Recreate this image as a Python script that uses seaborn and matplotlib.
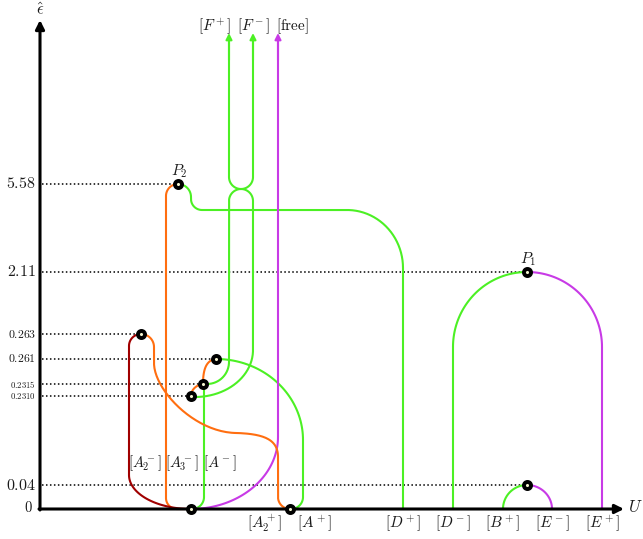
import numpy as np
import matplotlib
matplotlib.use("Agg")
import matplotlib.pyplot as plt
import seaborn as sns

# ---- data -----------------------------------------------------------------
# energy levels shown on the vertical axis
level_labels = ["0", "0.04", "0.2310", "0.2315", "0.261", "0.263", "2.11", "5.58"]
# branch names along the U axis
bottom_branches = [r"[A_2^+]", r"[A^+]", r"[D^+]", r"[D^-]", r"[B^+]", r"[E^-]", r"[E^+]"]
mid_branches = [r"[A_2^-]", r"[A_3^-]", r"[A^-]"]
top_branches = [r"[F^+]", r"[F^-]", r"[\mathrm{free}]"]
# critical points: the level each one sits on
crit_level = ["5.58", "2.11", "0.263", "0.261", "0.2315", "0.2310", "0.04", "0", "0"]
crit_names = ["P_2", "P_1", "", "", "", "", "", "", ""]

# ---- layout (canvas pixels) -------------------------------------------------
level_rows = dict(zip(level_labels, [509, 485, 396, 384, 359, 334, 272, 184]))
level_sizes = dict(zip(level_labels, [10.5, 11.5, 6.3, 6.3, 8.5, 8.5, 11.5, 11.5]))
bottom_x = [265, 315, 403, 453, 503, 552, 602]
mid_x = [145, 182, 220]
top_x = [215, 254, 292]
crit_x = [178, 527, 141, 216, 203, 191, 527, 191, 290]

GREEN = "#4cf024"
ORANGE = "#ff6e10"
MAGENTA = "#c83ae6"
DARKRED = "#a00000"
TXT = "#1a1a1a"


def arc(cx, cy, rx, ry, a0, a1, n=48):
    t = np.radians(np.linspace(a0, a1, n))
    return np.column_stack([cx + rx * np.cos(t), cy - ry * np.sin(t)])


def seg(*pts):
    return np.array(pts, float)


def bez(p0, p1, p2, p3, n=48):
    t = np.linspace(0, 1, n)[:, None]
    p0, p1, p2, p3 = (np.array(p, float) for p in (p0, p1, p2, p3))
    return ((1 - t) ** 3) * p0 + 3 * ((1 - t) ** 2) * t * p1 + 3 * (1 - t) * t * t * p2 + t ** 3 * p3


def path(*parts):
    return np.vstack(parts)


sns.set_theme(style="white")
plt.rcParams["mathtext.fontset"] = "cm"
plt.rcParams["font.family"] = ["DejaVu Serif"]

fig = plt.figure(figsize=(6.43, 5.39), dpi=100)
ax = fig.add_axes([0, 0, 1, 1])
ax.set_axis_off()

y_of = level_rows

# ---- branch curves ----------------------------------------------------------
paths = []
# upper loop of F+ / F-
paths.append((GREEN, path(seg((229, 40), (229, 177)), arc(241, 177, 12, 12, 180, 360), seg((253, 177), (253, 40)))))
# lower arch joining the points at 0.2315 and 0.2310
paths.append((GREEN, path(seg((203, 384)), arc(207, 362, 22, 22, 270, 360), seg((229, 362), (229, 201)),
                          arc(241, 201, 12, 12, 180, 0), seg((253, 201), (253, 350)),
                          arc(195, 350, 58, 47, 0, -90), seg((191, 397)))))
# P2 to D+
paths.append((GREEN, path(arc(178, 197, 13, 13, 90, 0), seg((191, 199)), arc(202, 199, 11, 11, 180, 270),
                          seg((347, 210)), arc(347, 268, 56, 58, 90, 0), seg((403, 509)))))
# 0.261 point to A+
paths.append((GREEN, path(arc(216, 440, 87, 81, 90, 0), seg((303, 497)), arc(291, 497, 12, 12, 0, -90))))
# A- branch
paths.append((GREEN, path(seg((204, 384), (204, 497)), arc(192, 497, 12, 12, 0, -90))))
# D- to P1
paths.append((GREEN, path(seg((453, 509)), arc(527, 347, 74, 75, 180, 90))))
# B+ to the 0.04 point
paths.append((GREEN, arc(527, 509, 24, 24, 180, 90)))

# P1 to E+
paths.append((MAGENTA, path(arc(527, 347, 75, 75, 90, 0), seg((602, 509)))))
# 0.04 point to E-
paths.append((MAGENTA, arc(527, 509, 25, 24, 90, 0)))
# free branch
paths.append((MAGENTA, path(seg((278, 40), (278, 437)), arc(191, 437, 87, 72, 0, -90))))

# A3- branch from P2
paths.append((ORANGE, path(arc(178, 196, 12, 12, 90, 180), seg((166, 498)), arc(177, 498, 11, 11, 180, 270),
                           seg((191, 509)))))
# 0.263 point to A2+
paths.append((ORANGE, path(arc(141, 347, 13, 13, 90, 0), seg((154, 363)),
                           bez((154, 363), (154, 390), (195, 433), (237, 433)),
                           bez((237, 433), (265, 434), (278, 440), (278, 457)),
                           seg((278, 497)), arc(290, 497, 12, 12, 180, 270))))
# small orange links between the low points
paths.append((ORANGE, path(bez((216, 359), (207, 360), (203, 368), (203, 384)))))
paths.append((ORANGE, path(bez((203, 384), (196, 385), (191, 390), (191, 396)))))
# A2- branch
paths.append((DARKRED, path(arc(141, 346, 12, 12, 90, 180), seg((129, 475)), arc(191, 475, 62, 34, 180, 270))))

for color, p in paths:
    sns.lineplot(x=p[:, 0], y=p[:, 1], sort=False, estimator=None, color=color, lw=1.5, ax=ax, zorder=3)

# arrows for the unbounded branches
for x, c in zip([229, 253, 278], [GREEN, GREEN, MAGENTA]):
    ax.annotate("", xy=(x, 33), xytext=(x, 60),
                arrowprops=dict(arrowstyle="-|>", color=c, lw=1.5, mutation_scale=9, shrinkA=0, shrinkB=0))

# ---- dotted guide lines to the critical points ----------------------------
for x, lv in zip(crit_x, crit_level):
    if lv == "0":
        continue
    y = y_of[lv]
    ax.plot([42, x], [y, y], color="black", lw=1.1, ls=(0, (1, 1.6)), zorder=2)

# ---- axes --------------------------------------------------------------------
ax.annotate("", xy=(40, 20), xytext=(40, 510),
            arrowprops=dict(arrowstyle="-|>", color="black", lw=2.2, mutation_scale=13, shrinkA=0, shrinkB=0),
            zorder=4)
ax.annotate("", xy=(624, 509), xytext=(39, 509),
            arrowprops=dict(arrowstyle="-|>", color="black", lw=2.2, mutation_scale=13, shrinkA=0, shrinkB=0),
            zorder=4)
ax.text(40, 11, r"$\hat{\epsilon}$", ha="center", va="center", fontsize=12, color=TXT)
ax.text(628, 508, r"$U$", ha="left", va="center", fontsize=12, color=TXT)

for lv in level_labels:
    ax.text(36 if lv != "0" else 33, y_of[lv] - (2 if lv == "0" else 0), "$" + lv + "$",
            ha="right", va="center", fontsize=level_sizes[lv], color=TXT)

for lab, x in zip(bottom_branches, bottom_x):
    ax.text(x, 523, "$" + lab + "$", ha="center", va="center", fontsize=11, color=TXT, zorder=7)
for lab, x in zip(mid_branches, mid_x):
    ax.text(x, 463, "$" + lab + "$", ha="center", va="center", fontsize=10.5, color=TXT, zorder=7)
for lab, x in zip(top_branches, top_x):
    ax.text(x, 26, "$" + lab + "$", ha="center", va="center", fontsize=11, color=TXT, zorder=7)

# ---- critical points -------------------------------------------------------------
px = np.array(crit_x, float)
py = np.array([y_of[lv] for lv in crit_level], float)
sns.scatterplot(x=px, y=py, s=26, color="#f4f4d0", edgecolor="black", linewidth=2.8, ax=ax, zorder=6)
for x, y, name in zip(px, py, crit_names):
    if name:
        ax.text(x + 1, y - 13, "$" + name + "$", ha="center", va="center", fontsize=11, color=TXT)

ax.set_xlim(0, 643)
ax.set_ylim(539, 0)
fig.savefig("out.png", dpi=100)
